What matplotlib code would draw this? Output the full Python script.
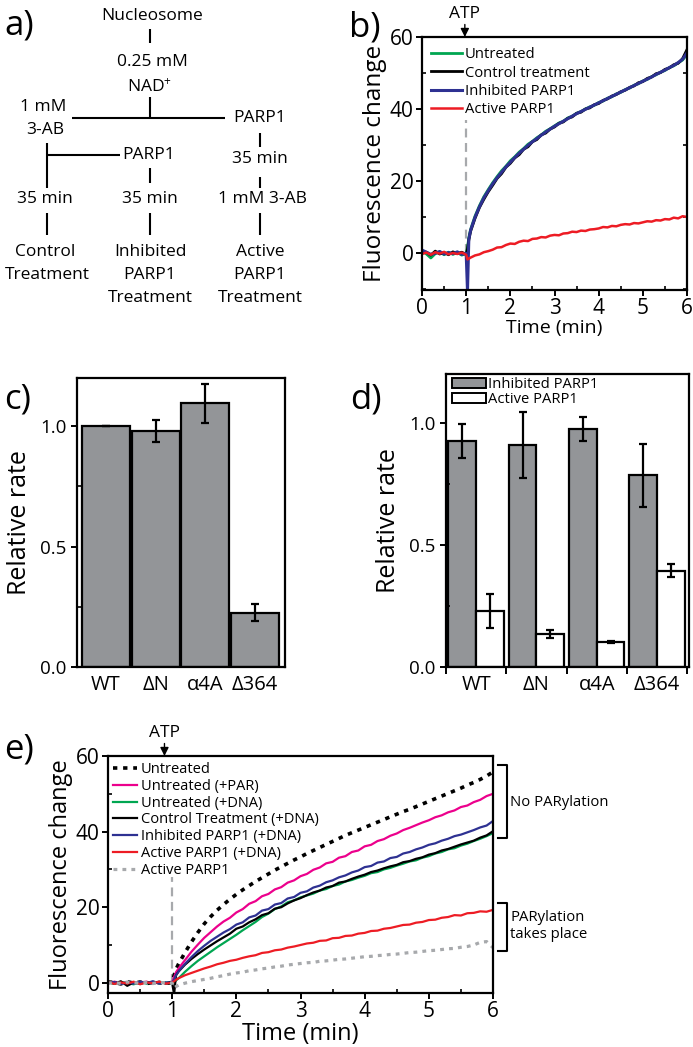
import matplotlib
matplotlib.use('Agg')
import matplotlib.pyplot as plt
from matplotlib.patches import Patch
from matplotlib.ticker import MultipleLocator

plt.rcParams['font.family'] = ['Open Sans', 'DejaVu Sans']
plt.rcParams['mathtext.default'] = 'regular'
plt.rcParams['axes.linewidth'] = 1.6

# ---- data ----
time = [0.0, 0.1, 0.2, 0.3, 0.4, 0.5, 0.6, 0.7, 0.8, 0.9, 1.0,
        1.03, 1.06, 1.1, 1.2, 1.3, 1.4, 1.5, 1.6, 1.7, 1.8,
        1.9, 2.0, 2.1, 2.2, 2.3, 2.4, 2.5, 2.6, 2.7, 2.8,
        2.9, 3.0, 3.1, 3.2, 3.3, 3.4, 3.5, 3.6, 3.7, 3.8,
        3.9, 4.0, 4.1, 4.2, 4.3, 4.4, 4.5, 4.6, 4.7, 4.8,
        4.9, 5.0, 5.1, 5.2, 5.3, 5.4, 5.5, 5.6, 5.7, 5.8,
        5.9, 6.0]

# panel b traces
b_untreated = [0.6, -0.3, -1.4, -0.2, 0.3, -0.5, 0.2, -0.4, 0.1, -0.6, -0.2,
               1.5, 4.2, 6.5, 10.2, 13.1, 15.6, 17.6, 19.5, 21.2, 22.8,
               24.1, 25.6, 26.7, 28.0, 29.0, 30.2, 31.0, 32.0, 32.8, 33.8,
               34.5, 35.3, 36.1, 36.6, 37.5, 38.0, 38.8, 39.3, 40.0, 40.6,
               41.0, 41.8, 42.2, 43.0, 43.4, 44.2, 44.6, 45.4, 45.8, 46.6,
               47.0, 47.8, 48.2, 49.0, 49.5, 50.2, 50.7, 51.5, 52.0, 52.8,
               53.6, 55.2]
b_control = [0.4, 0.2, -0.6, 0.5, -0.3, 0.1, -0.5, 0.3, -0.2, 0.2, -0.4,
             1.0, 3.6, 6.0, 9.6, 12.6, 14.9, 17.0, 18.8, 20.7, 22.0,
             23.8, 24.9, 26.4, 27.3, 28.8, 29.5, 30.9, 31.5, 32.8, 33.3,
             34.4, 35.0, 36.0, 36.4, 37.4, 37.8, 38.8, 39.1, 40.0, 40.3,
             41.2, 41.5, 42.4, 42.8, 43.6, 44.0, 44.8, 45.2, 46.0, 46.4,
             47.3, 47.6, 48.5, 48.9, 49.8, 50.1, 51.0, 51.4, 52.3, 52.7,
             54.0, 56.5]
b_inhibited = [0.8, 0.2, -0.4, -0.1, 0.4, -0.3, 0.1, -0.2, 0.3, -0.4, -0.1,
               -10.5, 3.8, 6.3, 9.9, 12.8, 15.3, 17.3, 19.2, 20.9, 22.4,
               23.9, 25.2, 26.5, 27.7, 28.8, 29.9, 30.9, 31.8, 32.7, 33.6,
               34.4, 35.2, 35.9, 36.6, 37.3, 38.0, 38.7, 39.3, 39.9, 40.5,
               41.1, 41.7, 42.3, 42.9, 43.5, 44.1, 44.7, 45.3, 45.9, 46.5,
               47.1, 47.7, 48.3, 48.9, 49.6, 50.2, 50.8, 51.5, 52.1, 52.9,
               53.8, 55.6]
b_active = [-0.3, 0.1, -0.5, 0.2, -0.2, 0.3, -0.4, 0.0, -0.3, 0.1, -0.5,
            -1.8, -1.6, -1.3, -0.7, -0.4, 0.2, 0.5, 0.9, 1.5, 1.6,
            2.2, 2.6, 2.5, 3.1, 3.4, 3.3, 3.9, 4.0, 4.4, 4.3,
            4.8, 5.0, 4.9, 5.4, 5.5, 5.9, 5.8, 6.2, 6.1, 6.5,
            6.6, 6.8, 7.2, 7.1, 7.5, 7.4, 7.8, 8.0, 7.9, 8.3,
            8.2, 8.5, 8.8, 8.7, 9.1, 9.0, 9.4, 9.3, 9.8, 9.6,
            10.2, 10.0]

# panel c
mutants = ['WT', 'ΔN', 'α4A', 'Δ364']
rate_c = [1.0, 0.98, 1.095, 0.225]
err_c = [0.0, 0.045, 0.08, 0.035]

# panel d
rate_inhibited = [0.925, 0.91, 0.975, 0.785]
err_inhibited = [0.07, 0.135, 0.05, 0.13]
rate_active = [0.228, 0.135, 0.102, 0.395]
err_active = [0.07, 0.015, 0.004, 0.025]

# panel e traces
e_untreated = [0.2, 0.1, -0.3, 0.3, -0.1, 0.2, -0.2, 0.1, 0.0, -0.2, 0.1,
               2.0, 3.6, 5.0, 8.0, 10.8, 13.3, 15.6, 17.5, 19.2, 20.7,
               22.1, 23.4, 24.6, 25.7, 26.8, 27.8, 28.8, 29.8, 30.7, 31.6,
               32.5, 33.3, 34.2, 35.0, 35.8, 36.6, 37.4, 38.2, 39.0, 39.7,
               40.4, 41.1, 41.8, 42.5, 43.2, 43.9, 44.6, 45.3, 45.9, 46.6,
               47.3, 48.0, 48.7, 49.4, 50.1, 50.8, 51.5, 52.3, 53.0, 53.8,
               54.7, 55.8]
e_untreated_par = [-0.2, 0.3, -0.1, 0.2, -0.3, 0.1, 0.3, -0.2, 0.1, -0.1, 0.0,
                   1.5, 2.8, 3.8, 6.0, 8.2, 10.1, 11.9, 13.4, 14.9, 16.2,
                   17.2, 18.6, 19.5, 20.9, 21.6, 22.9, 23.5, 24.7, 25.3, 26.5,
                   27.1, 28.2, 28.8, 29.9, 30.5, 31.6, 32.0, 33.1, 33.5, 34.6,
                   35.0, 36.1, 36.5, 37.5, 38.0, 38.9, 39.5, 40.4, 41.0, 41.7,
                   42.4, 43.0, 43.8, 44.3, 45.1, 45.6, 46.5, 46.9, 47.8, 48.4,
                   49.4, 50.0]
e_untreated_dna = [0.1, -0.3, 0.2, -0.1, -0.4, 0.2, -0.2, 0.3, -0.1, 0.1, -0.3,
                   0.2, 0.6, 1.2, 2.9, 4.4, 5.8, 7.0, 8.2, 9.4, 10.5,
                   11.6, 12.7, 13.9, 15.0, 16.1, 17.4, 18.3, 19.5, 20.2, 21.3,
                   21.8, 22.6, 23.1, 23.6, 24.4, 24.8, 25.6, 26.0, 26.8, 27.2,
                   27.8, 28.3, 29.0, 29.3, 30.0, 30.4, 31.0, 31.5, 32.1, 32.4,
                   33.1, 33.5, 34.2, 34.6, 35.3, 35.6, 36.3, 36.8, 37.5, 38.1,
                   38.8, 39.6]
e_control_dna = [0.3, -0.2, 0.4, -0.8, 0.1, -0.3, 0.2, -0.1, 0.3, -0.2, -0.1,
                 -3.0, 2.0, 3.0, 4.8, 6.3, 7.6, 8.8, 9.9, 11.0, 12.0,
                 13.0, 14.3, 14.9, 16.0, 16.8, 17.9, 18.4, 19.6, 20.0, 21.0,
                 21.8, 22.4, 23.2, 23.9, 24.4, 25.2, 25.6, 26.5, 26.8, 27.5,
                 28.1, 28.6, 29.3, 29.7, 30.3, 30.8, 31.2, 31.9, 32.2, 32.8,
                 33.2, 33.9, 34.3, 35.0, 35.4, 36.0, 36.6, 37.1, 37.6, 38.4,
                 39.0, 40.1]
e_inhibited_dna = [-0.1, 0.2, -0.3, 0.1, -0.2, 0.3, -0.1, 0.4, -0.2, 0.1, 0.0,
                   0.8, 2.0, 3.0, 5.0, 6.8, 8.4, 9.8, 11.1, 12.2, 13.3,
                   14.2, 15.4, 16.0, 17.3, 17.8, 19.1, 19.5, 20.7, 21.1, 22.3,
                   22.7, 23.8, 24.2, 25.2, 25.7, 26.6, 27.1, 27.9, 28.4, 29.2,
                   29.7, 30.6, 30.9, 31.8, 32.1, 33.0, 33.3, 34.2, 34.6, 35.3,
                   35.8, 36.5, 36.9, 37.6, 38.1, 38.8, 39.2, 39.8, 40.4, 41.1,
                   41.6, 42.8]
e_active_dna = [0.2, -0.3, 0.1, -0.2, 0.3, -0.4, 0.1, -0.1, 0.3, -0.2, 0.0,
                0.4, 0.8, 1.2, 2.0, 2.6, 3.2, 3.8, 4.3, 4.9, 5.3,
                5.8, 6.1, 6.6, 7.0, 7.3, 7.9, 8.1, 8.6, 8.8, 9.3,
                9.6, 10.0, 10.4, 10.6, 11.1, 11.2, 11.8, 11.9, 12.4, 12.5,
                13.0, 13.2, 13.7, 13.8, 14.3, 14.5, 14.9, 15.3, 15.4, 15.9,
                16.1, 16.6, 16.7, 17.2, 17.4, 17.9, 17.8, 18.4, 18.5, 18.9,
                18.8, 19.3]
e_active = [-0.1, 0.1, -0.2, 0.2, 0.0, -0.1, 0.1, -0.2, 0.1, 0.0, -0.1,
            -1.4, -1.0, -0.6, -0.1, 0.3, 0.6, 0.9, 1.2, 1.6, 1.9,
            2.3, 2.6, 2.8, 3.2, 3.4, 3.7, 3.9, 4.2, 4.4, 4.7,
            4.9, 5.1, 5.3, 5.4, 5.7, 5.8, 6.0, 6.2, 6.3, 6.5,
            6.7, 6.9, 7.0, 7.2, 7.3, 7.5, 7.6, 7.8, 8.0, 8.1,
            8.3, 8.5, 8.6, 8.8, 9.0, 9.1, 9.4, 9.6, 10.0, 10.7,
            10.9, 9.3]

GREEN = '#00a651'
BLUE = '#2e3192'
RED = '#ed1c24'
PINK = '#ec008c'
LGRAY = '#a7a9ac'
BARGRAY = '#939598'

W, H = 693, 1047
fig = plt.figure(figsize=(W / 100, H / 100), dpi=100)


def box(l, t, r, b):
    return [l / W, 1 - b / H, (r - l) / W, (b - t) / H]


# overlay for the scheme, panel letters and brackets
ov = fig.add_axes([0, 0, 1, 1])
ov.set_xlim(0, W)
ov.set_ylim(H, 0)
ov.axis('off')

for lbl, x, y in [('a)', 4, 34), ('b)', 349, 36), ('c)', 4, 408),
                  ('d)', 350, 408), ('e)', 4, 758)]:
    ov.text(x, y, lbl, fontsize=25, va='baseline', ha='left')

# panel a: flow scheme
fs_a = 12.5
scheme_text = [('Nucleosome', 152, 16), ('0.25 mM', 152, 62), ('NAD$^{+}$', 150, 87),
               ('1 mM', 43, 107), ('3-AB', 45, 130), ('PARP1', 260, 118),
               ('PARP1', 149, 155), ('35 min', 260, 159), ('35 min', 45, 199),
               ('35 min', 150, 199), ('1 mM 3-AB', 262, 199),
               ('Control', 45, 252), ('Treatment', 47, 275),
               ('Inhibited', 150, 252), ('PARP1', 150, 275), ('Treatment', 150, 298),
               ('Active', 260, 252), ('PARP1', 260, 275), ('Treatment', 260, 298)]
for s, x, y in scheme_text:
    ov.text(x, y, s, fontsize=fs_a, ha='center', va='center')
scheme_lines = [((150, 150), (29, 43)), ((150, 150), (97, 118)), ((72, 225), (118, 118)),
                ((47, 47), (143, 188)), ((47, 120), (155, 155)), ((150, 150), (168, 183)),
                ((260, 260), (133, 147)), ((260, 260), (177, 188)),
                ((47, 47), (213, 235)), ((150, 150), (213, 235)), ((260, 260), (213, 235))]
for xs, ys in scheme_lines:
    ov.plot(xs, ys, color='k', lw=1.5, solid_capstyle='butt')

# panel e brackets
for y0, y1 in [(765, 838), (903, 951)]:
    ov.plot([498, 507, 507, 498], [y0, y0, y1, y1], color='k', lw=1.5)
ov.text(510, 803, 'No PARylation', fontsize=10.7, va='center', ha='left')
ov.text(510, 926, 'PARylation\ntakes place', fontsize=10.7, va='center', ha='left',
        linespacing=1.25)

# ---- panel b ----
ax_b = fig.add_axes(box(422, 37, 687, 290))
ax_b.plot(time, b_untreated, color=GREEN, lw=2, label='Untreated')
ax_b.plot(time, b_control, color='k', lw=2, label='Control treatment')
ax_b.plot(time, b_inhibited, color=BLUE, lw=2.2, label='Inhibited PARP1')
ax_b.plot(time, b_active, color=RED, lw=1.8, label='Active PARP1')
ax_b.vlines(1.0, 0, 37, colors=LGRAY, linestyles=(0, (4, 2.5)), lw=1.6, zorder=1)
ax_b.set_xlim(0, 6)
ax_b.set_ylim(-10.3, 60)
ax_b.set_yticks([0, 20, 40, 60])
ax_b.set_xticks(range(7))
ax_b.xaxis.set_minor_locator(MultipleLocator(0.5))
ax_b.yaxis.set_minor_locator(MultipleLocator(10))
ax_b.tick_params(which='major', direction='out', length=4, width=1.4, labelsize=15, pad=2)
ax_b.tick_params(which='minor', direction='in', length=3, width=1.2, right=True)
ax_b.set_xlabel('Time (min)', fontsize=14, labelpad=0)
ax_b.set_ylabel('Fluorescence change', fontsize=17.5, labelpad=2)
ax_b.legend(loc='upper left', bbox_to_anchor=(0.03, 0.965), frameon=False, fontsize=10.6,
            handlelength=2.1, handletextpad=0.15, labelspacing=0.22, borderpad=0.1,
            borderaxespad=0)
ax_b.annotate('ATP', xy=(0.97, 60), xytext=(0, 11), textcoords='offset points',
              ha='center', va='bottom', fontsize=12.5, annotation_clip=False,
              arrowprops=dict(arrowstyle='-|>,head_length=0.4,head_width=0.2',
                              color='k', lw=1.0, shrinkA=0, shrinkB=0))

# ---- panel c ----
ax_c = fig.add_axes(box(77, 378, 285, 667))
ax_c.bar(range(4), rate_c, width=0.96, color=BARGRAY, edgecolor='k', lw=1.6,
         yerr=err_c, capsize=3, error_kw=dict(lw=1.6, capthick=1.6))
ax_c.set_xlim(-0.58, 3.6)
ax_c.set_ylim(0, 1.2)
ax_c.set_xticks(range(4))
ax_c.set_xticklabels(mutants)
ax_c.set_yticks([0, 0.5, 1.0])
ax_c.set_yticklabels(['0.0', '0.5', '1.0'])
ax_c.yaxis.set_minor_locator(MultipleLocator(0.25))
ax_c.tick_params(axis='x', length=0, labelsize=14.5, pad=6)
ax_c.tick_params(axis='y', which='major', direction='out', length=4, width=1.4, labelsize=13.5)
ax_c.tick_params(axis='y', which='minor', direction='in', length=3, width=1.2)
ax_c.set_ylabel('Relative rate', fontsize=18, labelpad=6)

# ---- panel d ----
ax_d = fig.add_axes(box(446, 374, 689, 667))
pos = range(4)
ax_d.bar([p - 0.23 for p in pos], rate_inhibited, width=0.46, color=BARGRAY,
         edgecolor='k', lw=1.6, yerr=err_inhibited, capsize=3,
         error_kw=dict(lw=1.6, capthick=1.6), label='Inhibited PARP1')
ax_d.bar([p + 0.23 for p in pos], rate_active, width=0.46, color='white',
         edgecolor='k', lw=1.6, yerr=err_active, capsize=3,
         error_kw=dict(lw=1.6, capthick=1.6), label='Active PARP1')
ax_d.set_xlim(-0.5, 3.53)
ax_d.set_ylim(0, 1.2)
ax_d.set_xticks(range(4))
ax_d.set_xticklabels(mutants)
ax_d.set_xticks([-0.5, 0.5, 1.5, 2.5, 3.5], minor=True)
ax_d.set_yticks([0, 0.5, 1.0])
ax_d.set_yticklabels(['0.0', '0.5', '1.0'])
ax_d.yaxis.set_minor_locator(MultipleLocator(0.25))
ax_d.tick_params(axis='x', which='major', length=0, labelsize=14.5, pad=6)
ax_d.tick_params(axis='x', which='minor', direction='out', length=5, width=1.4)
ax_d.tick_params(axis='y', which='major', direction='out', length=4, width=1.4, labelsize=13.5)
ax_d.tick_params(axis='y', which='minor', direction='in', length=3, width=1.2)
ax_d.set_ylabel('Relative rate', fontsize=18, labelpad=6)
ax_d.legend(handles=[Patch(facecolor=BARGRAY, edgecolor='k', lw=1.4, label='Inhibited PARP1'),
                     Patch(facecolor='white', edgecolor='k', lw=1.4, label='Active PARP1')],
            loc='upper left', bbox_to_anchor=(0.02, 0.995), frameon=False, fontsize=10.6,
            handlelength=2.3, handleheight=0.7, handletextpad=0.1, labelspacing=0.0,
            borderpad=0.1, borderaxespad=0)

# ---- panel e ----
ax_e = fig.add_axes(box(108, 756, 493, 993))
ax_e.plot(time, e_untreated, color='k', lw=2.6, ls=(0, (1.2, 1.6)), label='Untreated')
ax_e.plot(time, e_untreated_par, color=PINK, lw=1.6, label='Untreated (+PAR)')
ax_e.plot(time, e_untreated_dna, color=GREEN, lw=1.6, label='Untreated (+DNA)')
ax_e.plot(time, e_control_dna, color='k', lw=1.6, label='Control Treatment (+DNA)')
ax_e.plot(time, e_inhibited_dna, color=BLUE, lw=1.6, label='Inhibited PARP1 (+DNA)')
ax_e.plot(time, e_active_dna, color=RED, lw=1.6, label='Active PARP1 (+DNA)')
ax_e.plot(time, e_active, color=LGRAY, lw=2.3, ls=(0, (1.2, 1.6)), label='Active PARP1')
ax_e.vlines(1.0, 0, 28, colors=LGRAY, linestyles=(0, (4, 2.5)), lw=1.6, zorder=1)
ax_e.set_xlim(0, 6)
ax_e.set_ylim(-2.7, 60)
ax_e.set_yticks([0, 20, 40, 60])
ax_e.set_xticks(range(7))
ax_e.xaxis.set_minor_locator(MultipleLocator(0.5))
ax_e.yaxis.set_minor_locator(MultipleLocator(10))
ax_e.tick_params(which='major', direction='out', length=4, width=1.4, labelsize=15, pad=2)
ax_e.tick_params(which='minor', direction='in', length=3, width=1.2)
ax_e.set_xlabel('Time (min)', fontsize=17, labelpad=0)
ax_e.set_ylabel('Fluorescence change', fontsize=17, labelpad=2)
ax_e.legend(loc='upper left', bbox_to_anchor=(0.01, 0.98), frameon=False, fontsize=10.5,
            handlelength=1.65, handletextpad=0.25, labelspacing=0.12, borderpad=0.1,
            borderaxespad=0)
ax_e.annotate('ATP', xy=(0.88, 60), xytext=(0, 11), textcoords='offset points',
              ha='center', va='bottom', fontsize=12.5, annotation_clip=False,
              arrowprops=dict(arrowstyle='-|>,head_length=0.4,head_width=0.2',
                              color='k', lw=1.0, shrinkA=0, shrinkB=0))

fig.savefig('out.png', dpi=100)
